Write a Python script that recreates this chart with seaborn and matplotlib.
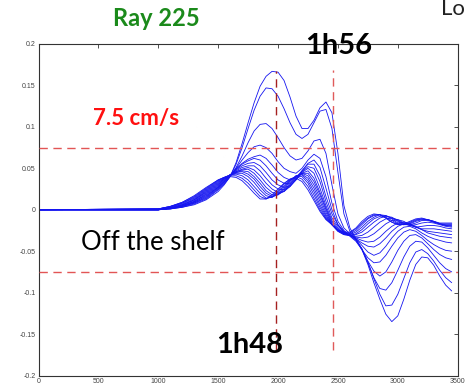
import matplotlib
matplotlib.use("Agg")
import matplotlib.pyplot as plt
import numpy as np
import pandas as pd
import seaborn as sns

# time axis of the velocity records (s)
t_s = [0, 1000, 1100, 1200, 1300, 1400, 1500, 1550, 1600, 1650, 1700, 1750,
       1800, 1850, 1900, 1950, 2000, 2050, 2100, 2150, 2200, 2250, 2300, 2350,
       2400, 2450, 2500, 2550, 2600, 2650, 2700, 2750, 2800, 2850, 2900, 2950,
       3000, 3050, 3100, 3150, 3200, 3250, 3300, 3350, 3400, 3450]

# velocity records (m/s) at successive points along the ray, largest first
v01 = [0, 0, .001, .003, .006, .012, .022, .030, .040, .057, .080, .105, .129, .149, .161, .167,
       .166, .156, .136, .113, .098, .098, .108, .123, .130, .117, .068, .005, -.022, -.035, -.048,
       -.066, -.088, -.108, -.126, -.135, -.128, -.108, -.085, -.066, -.057, -.058, -.067, -.080,
       -.091, -.098]
v02 = [0, 0, .001, .003, .007, .013, .024, .031, .040, .055, .075, .098, .120, .137, .147, .146,
       .137, .122, .105, .091, .086, .091, .105, .119, .121, .098, .045, -.005, -.026, -.036, -.047,
       -.063, -.083, -.102, -.116, -.115, -.102, -.083, -.064, -.051, -.048, -.053, -.062, -.073,
       -.082, -.088]
v03 = [0, 0, .001, .004, .008, .014, .025, .032, .040, .051, .065, .081, .095, .103, .104, .098,
       .087, .075, .065, .060, .062, .071, .083, .085, .068, .030, -.005, -.022, -.029, -.036, -.047,
       -.064, -.082, -.095, -.097, -.088, -.073, -.057, -.044, -.038, -.039, -.046, -.055, -.064,
       -.071, -.075]
v04 = [0, 0, .002, .004, .008, .015, .026, .033, .041, .050, .060, .069, .076, .078, .075, .068,
       .058, .050, .046, .044, .050, .060, .067, .062, .040, .008, -.014, -.025, -.031, -.037, -.048,
       -.062, -.074, -.080, -.075, -.063, -.049, -.038, -.031, -.030, -.034, -.041, -.048, -.054,
       -.058, -.060]
v05 = [0, 0, .002, .004, .009, .016, .027, .034, .041, .049, .056, .061, .064, .066, .062, .054,
       .045, .039, .036, .039, .047, .056, .060, .051, .026, .000, -.018, -.027, -.032, -.038, -.048,
       -.058, -.064, -.063, -.055, -.044, -.034, -.027, -.024, -.026, -.031, -.037, -.042, -.046,
       -.049, -.050]
v06 = [0, 0, .002, .005, .009, .017, .027, .034, .042, .049, .055, .059, .062, .060, .053, .044,
       .036, .032, .031, .037, .047, .055, .055, .041, .016, -.005, -.018, -.026, -.030, -.035, -.043,
       -.051, -.055, -.052, -.044, -.034, -.026, -.021, -.020, -.023, -.028, -.032, -.035, -.037,
       -.039, -.040]
v07 = [0, 0, .002, .005, .010, .018, .028, .035, .042, .048, .053, .056, .057, .053, .045, .036,
       .030, .027, .029, .036, .046, .052, .050, .034, .010, -.010, -.020, -.027, -.031, -.035, -.040,
       -.044, -.045, -.041, -.034, -.026, -.020, -.017, -.017, -.020, -.024, -.028, -.030, -.032,
       -.033, -.034]
v08 = [0, 0, .002, .005, .010, .019, .029, .036, .042, .047, .051, .053, .053, .047, .038, .030,
       .025, .024, .028, .036, .045, .050, .044, .026, .005, -.013, -.022, -.028, -.031, -.034, -.037,
       -.039, -.038, -.033, -.026, -.020, -.016, -.015, -.017, -.021, -.024, -.026, -.027, -.028,
       -.029, -.030]
v09 = [0, 0, .002, .006, .011, .020, .030, .037, .042, .046, .049, .051, .048, .041, .032, .025,
       .021, .022, .028, .037, .044, .047, .038, .021, .002, -.015, -.024, -.029, -.031, -.033, -.034,
       -.033, -.029, -.023, -.017, -.013, -.012, -.014, -.018, -.021, -.023, -.023, -.023, -.024,
       -.025, -.026]
v10 = [0, 0, .002, .006, .012, .021, .031, .037, .042, .046, .048, .049, .044, .036, .027, .021,
       .019, .022, .030, .039, .044, .044, .034, .018, .000, -.017, -.025, -.029, -.031, -.032, -.031,
       -.027, -.021, -.015, -.011, -.010, -.012, -.016, -.019, -.021, -.020, -.019, -.019, -.020,
       -.022, -.023]
v11 = [0, 0, .002, .006, .012, .022, .032, .038, .042, .045, .047, .046, .040, .032, .023, .018,
       .018, .023, .032, .040, .044, .041, .030, .014, -.003, -.018, -.026, -.030, -.031, -.030, -.027,
       -.021, -.015, -.010, -.008, -.009, -.013, -.017, -.019, -.018, -.016, -.015, -.016, -.018,
       -.020, -.021]
v12 = [0, .001, .003, .007, .013, .023, .033, .038, .042, .045, .046, .043, .037, .028, .020, .016,
       .018, .025, .034, .041, .043, .038, .026, .010, -.006, -.018, -.026, -.030, -.031, -.029, -.024,
       -.017, -.011, -.008, -.007, -.010, -.014, -.018, -.018, -.016, -.013, -.013, -.015, -.017,
       -.019, -.020]
v13 = [0, .001, .003, .008, .014, .024, .034, .039, .042, .044, .044, .040, .033, .024, .017, .015,
       .019, .027, .035, .041, .042, .035, .022, .006, -.008, -.018, -.025, -.029, -.030, -.027, -.021,
       -.014, -.009, -.006, -.007, -.011, -.016, -.018, -.017, -.014, -.012, -.012, -.014, -.017,
       -.019, -.019]
v14 = [0, .001, .004, .008, .015, .025, .035, .039, .042, .043, .041, .036, .028, .020, .014, .015,
       .021, .029, .036, .040, .040, .032, .018, .003, -.010, -.018, -.025, -.029, -.029, -.025, -.018,
       -.011, -.007, -.006, -.009, -.013, -.017, -.018, -.016, -.013, -.011, -.012, -.014, -.017,
       -.018, -.018]
v15 = [0, .001, .004, .009, .016, .026, .036, .039, .041, .041, .038, .032, .024, .016, .013, .016,
       .023, .031, .037, .040, .037, .028, .014, .000, -.011, -.018, -.024, -.028, -.028, -.023, -.016,
       -.010, -.006, -.006, -.010, -.015, -.018, -.018, -.015, -.012, -.011, -.012, -.015, -.017,
       -.017, -.017]
v16 = [0, .001, .004, .009, .017, .027, .036, .039, .040, .039, .035, .028, .020, .013, .013, .018,
       .025, .032, .037, .038, .034, .024, .011, -.002, -.012, -.018, -.024, -.027, -.027, -.022, -.014,
       -.008, -.005, -.006, -.010, -.015, -.018, -.017, -.014, -.011, -.010, -.012, -.014, -.016,
       -.016, -.016]

records = [v01, v02, v03, v04, v05, v06, v07, v08, v09, v10, v11, v12, v13, v14, v15, v16]

# threshold speed and the two marked arrival times
threshold = 0.075
marked_times = [1980, 2458]

x_ticks = [0, 500, 1000, 1500, 2000, 2500, 3000, 3500]
y_ticks = [-0.2, -0.15, -0.1, -0.05, 0, 0.05, 0.1, 0.15, 0.2]
y_tick_labels = ["-0.2", "-0.15", "-0.1", "-0.05", "0", "0.05", "0.1", "0.15", "0.2"]

df = pd.concat(
    [pd.DataFrame({"t": t_s, "v": rec, "station": i}) for i, rec in enumerate(records)],
    ignore_index=True,
)

sns.set_theme(style="white")
plt.rcParams["font.family"] = ["Lato", "DejaVu Sans"]

W, H = 467, 389
fig = plt.figure(figsize=(W / 100, H / 100), dpi=100)
fig.patch.set_facecolor("white")
ax = fig.add_axes([38.5 / W, 1 - 375.5 / H, (457.7 - 38.5) / W, (375.5 - 44) / H])

sns.lineplot(data=df, x="t", y="v", units="station", estimator=None,
             color="#1515f0", linewidth=0.6, ax=ax, legend=False, sort=False)

ax.axhline(threshold, color="#e25555", lw=1.0, dashes=(6, 4), zorder=3)
ax.axhline(-threshold, color="#e25555", lw=1.0, dashes=(6, 4), zorder=3)
ax.vlines(marked_times[0], -0.17, 0.168, color="#a52020", lw=1.0,
          linestyles=(0, (6, 4)), zorder=3)
ax.vlines(marked_times[1], -0.169, 0.169, color="#e05a5a", lw=1.0,
          linestyles=(0, (6, 4)), zorder=3)

ax.set_xlim(0, 3500)
ax.set_ylim(-0.2, 0.2)
ax.set_xticks(x_ticks)
ax.set_xticklabels([str(v) for v in x_ticks])
ax.set_yticks(y_ticks)
ax.set_yticklabels(y_tick_labels)
ax.set_xlabel("")
ax.set_ylabel("")
ax.tick_params(direction="in", top=True, right=True, length=3, width=0.6,
               labelsize=5, labelcolor="#444444", color="#333333", pad=2)
for lab in ax.get_xticklabels() + ax.get_yticklabels():
    lab.set_family("Liberation Sans")
for sp in ax.spines.values():
    sp.set_linewidth(0.8)
    sp.set_color("#333333")


def px_text(x, y, s, **kw):
    fig.text(x / W, 1 - y / H, s, **kw)


px_text(156, 18, "Ray 225", color="#1b8a1b", fontsize=17, fontweight="bold",
        ha="center", va="center")
px_text(339, 46, "1h56", color="black", fontsize=21, fontweight="bold",
        ha="center", va="center")
px_text(250, 345, "1h48", color="black", fontsize=21, fontweight="bold",
        ha="center", va="center")
px_text(136, 119, "7.5 cm/s", color="#ff1010", fontsize=16, fontweight="bold",
        ha="center", va="center")
px_text(153, 242, "Off the shelf", color="black", fontsize=18.5,
        ha="center", va="center")
px_text(441, 15, "Lo", color="#222222", fontsize=16, ha="left", va="baseline")

fig.savefig("out.png", dpi=100, facecolor="white")
